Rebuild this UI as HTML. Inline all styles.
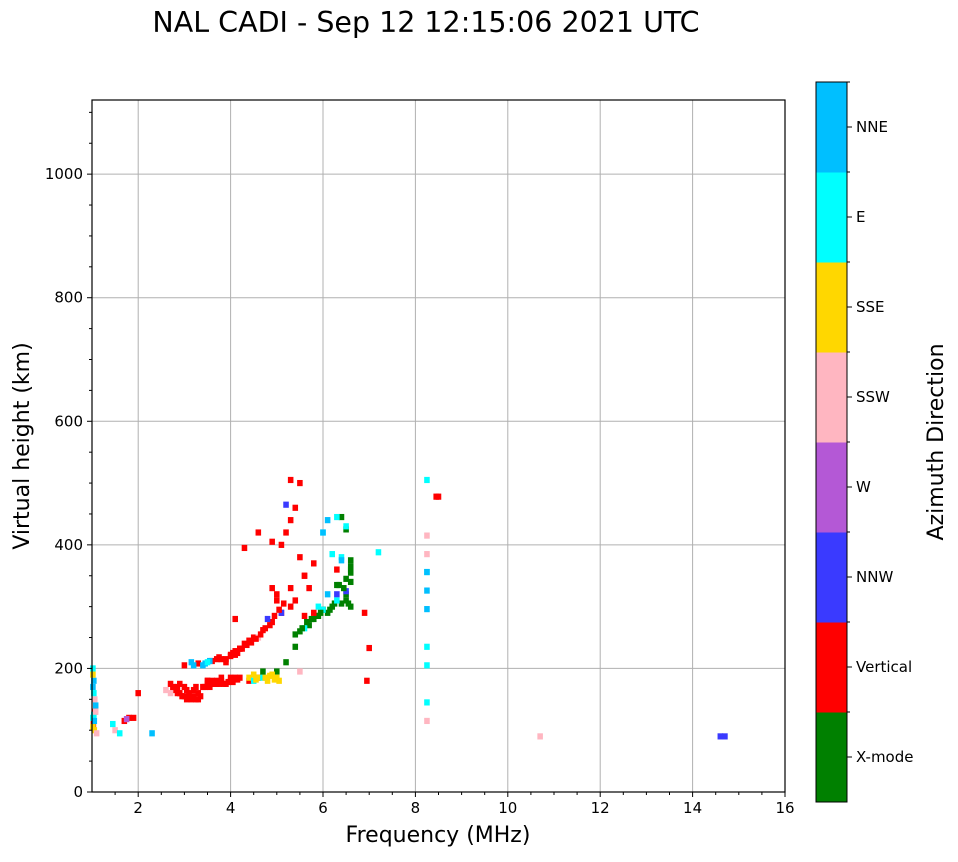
<!DOCTYPE html>
<html><head><meta charset="utf-8"><style>
body{margin:0;background:#fff;font-family:"Liberation Sans","DejaVu Sans",sans-serif}
svg text{font-family:"DejaVu Sans","Liberation Sans",sans-serif}
</style></head><body>
<svg id="c" width="958" height="857" viewBox="0 0 958 857" xmlns="http://www.w3.org/2000/svg">
<text x="426" y="32" text-anchor="middle" font-size="28.5">NAL CADI - Sep 12 12:15:06 2021 UTC</text>
<g id="grid"></g>
<g id="marks"></g>
<rect x="92" y="100" width="693" height="692" fill="none" stroke="#000" stroke-width="1.2"/>
<g id="axes"></g>
<text x="438" y="842" text-anchor="middle" font-size="22">Frequency (MHz)</text>
<text transform="translate(29,446) rotate(-90)" text-anchor="middle" font-size="22">Virtual height (km)</text>
<g id="cbar"></g>
<text transform="translate(943,442) rotate(-90)" text-anchor="middle" font-size="22">Azimuth Direction</text>
</svg>
<script>
const categories=["X-mode","Vertical","NNW","W","SSW","SSE","E","NNE"];
const catColors=["#008000","#ff0000","#3a3aff","#b458d6","#ffb6c1","#ffd700","#00ffff","#00bfff"];
const xTicks=[2,4,6,8,10,12,14,16];
const yTicks=[0,200,400,600,800,1000];
const freqs=[2.8,2.9,3.0,3.1,3.2,3.3,2.7,2.9,3.4,3.5,3.6,3.7,3.8,3.9,4.0,4.1,3.0,3.2,3.5,3.7,4.2,4.4,4.6,
3.0,3.3,3.6,3.8,4.0,4.1,4.3,4.5,4.7,4.9,5.1,5.3,3.9,4.2,4.4,3.15,3.45,3.55,
5.1,5.2,5.3,5.4,5.3,5.5,5.6,5.7,5.5,4.9,4.1,5.0,5.3,4.3,4.6,
5.0,5.2,5.4,5.5,5.7,5.8,5.9,6.0,6.2,6.4,6.5,6.6,6.6,6.6,6.5,6.4,6.3,5.4,6.1,
4.4,4.6,4.8,4.9,5.0,4.5,
4.5,5.9,6.0,6.3,6.5,6.4,5.6,4.7,6.1,
4.8,5.2,6.3,6.5,5.1,
5.5,2.6,2.7,4.6,
1.02,1.04,1.06,1.02,1.05,1.08,1.03,1.1,1.5,1.6,1.7,1.8,1.9,2.0,2.3,1.45,1.75,
8.25,8.25,8.25,8.25,8.25,8.25,8.25,8.25,8.25,8.25,8.25,8.45,8.5,10.7,14.6,14.7,7.0,6.95,6.9,7.2,
2.85,2.95,3.05,3.15,3.25,3.35,3.45,3.55,3.65,3.75,3.85,3.95,4.05,4.15,3.1,3.3,3.5,3.6,3.8,4.0,2.75,2.85,3.05,3.25,
3.9,4.0,4.05,4.15,4.25,4.35,4.45,4.55,4.65,4.75,4.85,4.95,5.05,5.15,3.7,3.75,4.1,4.2,3.2,3.4,3.5,
6.5,6.55,6.6,6.45,6.35,6.25,6.15,5.95,5.85,5.75,5.65,5.55,6.5,6.6,6.6,
4.55,4.75,4.85,4.95,4.7,5.05,
1.02,1.04,1.02,1.06,1.04,1.02,1.05,1.08,
6.0,6.1,6.2,6.3,6.4,6.3,6.0,5.8,5.6,5.0,4.9,5.4,5.6,5.8];
const heights=[165,160,155,155,155,160,175,175,170,175,175,180,180,175,180,185,170,165,180,175,185,180,185,
205,208,212,215,222,228,240,250,262,275,290,300,210,232,245,210,208,212,
400,420,440,460,505,500,350,330,380,405,280,310,330,395,420,
195,210,235,260,270,280,285,295,300,305,320,340,360,375,425,445,335,255,290,
185,185,180,190,185,190,
180,300,295,445,430,380,265,185,320,
280,465,320,325,290,
195,165,160,250,
200,180,150,120,100,140,110,95,100,95,115,120,120,160,95,110,118,
505,356,296,235,205,145,415,385,115,326,356,478,478,90,90,90,233,180,290,388,
160,155,150,150,150,155,170,170,175,175,175,178,178,182,160,150,180,180,185,185,170,170,165,170,
215,220,225,225,232,238,242,248,255,265,270,285,295,305,215,218,222,232,205,205,210,
310,305,300,330,335,305,295,290,285,280,275,265,345,355,365,
182,185,188,182,195,180,
170,160,190,130,125,105,115,130,
420,440,385,360,375,310,420,370,350,320,330,310,285,290];
const dirs=[1,1,1,1,1,1,1,1,1,1,1,1,1,1,1,1,1,1,1,1,1,1,1,
1,1,1,1,1,1,1,1,1,1,1,1,1,1,1,7,7,7,
1,1,1,1,1,1,1,1,1,1,1,1,1,1,1,
0,0,0,0,0,0,0,0,0,0,0,0,0,0,0,0,0,0,0,
5,5,5,5,5,5,
6,6,6,6,6,6,6,6,7,
2,2,2,2,2,
4,4,4,4,
6,7,4,6,5,7,1,4,4,6,1,1,1,1,7,6,3,
6,6,7,6,6,6,4,4,4,7,7,1,1,4,2,2,1,1,1,6,
1,1,1,1,1,1,1,1,1,1,1,1,1,1,1,1,1,1,1,1,1,1,1,1,
1,1,1,1,1,1,1,1,1,1,1,1,1,1,1,1,1,1,7,7,6,
0,0,0,0,0,0,0,0,0,0,0,0,0,0,0,
5,5,5,5,0,5,
7,6,5,1,6,5,7,4,
6,7,6,1,7,6,7,1,1,1,1,1,1,1];
const X0=92,X1=785,Y0=792,Y1=100,F0=1,F1=16,H1=1120;
const xs=f=>X0+(f-F0)/(F1-F0)*(X1-X0);
const ys=h=>Y0-h/H1*(Y0-Y1);
const NS="http://www.w3.org/2000/svg";
function mk(t,a,p){const e=document.createElementNS(NS,t);for(const k in a)e.setAttribute(k,a[k]);p.appendChild(e);return e;}
const grid=document.getElementById('grid'),axes=document.getElementById('axes'),marks=document.getElementById('marks'),cb=document.getElementById('cbar');
xTicks.forEach(v=>{
 if(v<16){const l=mk('line',{x1:xs(v),x2:xs(v),y1:Y1,y2:Y0,stroke:'#b0b0b0','stroke-width':1},grid);
 
 }
 mk('line',{x1:xs(v),x2:xs(v),y1:Y0,y2:Y0+5,stroke:'#000'},axes);
 const t=mk('text',{x:xs(v),y:Y0+21,'text-anchor':'middle','font-size':15},axes);t.textContent=v;
 
 
});
for(let v=1.5;v<16;v+=0.5){if(v%2!==0)mk('line',{x1:xs(v),x2:xs(v),y1:Y0,y2:Y0+3,stroke:'#000'},axes);}
yTicks.forEach(v=>{
 if(v>0){const l=mk('line',{x1:X0,x2:X1,y1:ys(v),y2:ys(v),stroke:'#b0b0b0','stroke-width':1},grid);
 
 }
 mk('line',{x1:X0-5,x2:X0,y1:ys(v),y2:ys(v),stroke:'#000'},axes);
 const t=mk('text',{x:X0-9,y:ys(v)+5,'text-anchor':'end','font-size':15},axes);t.textContent=v;
 
 
});
for(let v=50;v<1120;v+=50){if(v%200!==0)mk('line',{x1:X0-3,x2:X0,y1:ys(v),y2:ys(v),stroke:'#000'},axes);}
const cw=(xs(1.12)-xs(1)),ch=ys(0)-ys(10);
freqs.forEach((f,i)=>{
 const r=mk('rect',{x:xs(f)-cw/2,y:ys(heights[i])-ch/2,width:cw,height:ch,fill:catColors[dirs[i]]},marks);
 
 
});
const CX=816,CW=31,CT=82,CB=802,bh=(CB-CT)/categories.length;
categories.forEach((c,i)=>{
 const y=CB-(i+1)*bh;
 const r=mk('rect',{x:CX,y:y,width:CW,height:bh+0.5,fill:catColors[i]},cb);
 
 
 mk('line',{x1:CX+CW,x2:CX+CW+5,y1:y+bh/2,y2:y+bh/2,stroke:'#000'},cb);
 mk('line',{x1:CX+CW,x2:CX+CW+3,y1:y,y2:y,stroke:'#000'},cb);
 const t=mk('text',{x:CX+CW+9,y:y+bh/2+5,'font-size':15},cb);t.textContent=c;
 
 
});
mk('rect',{x:CX,y:CT,width:CW,height:CB-CT,fill:'none',stroke:'#000'},cb);
</script>
</body></html>
